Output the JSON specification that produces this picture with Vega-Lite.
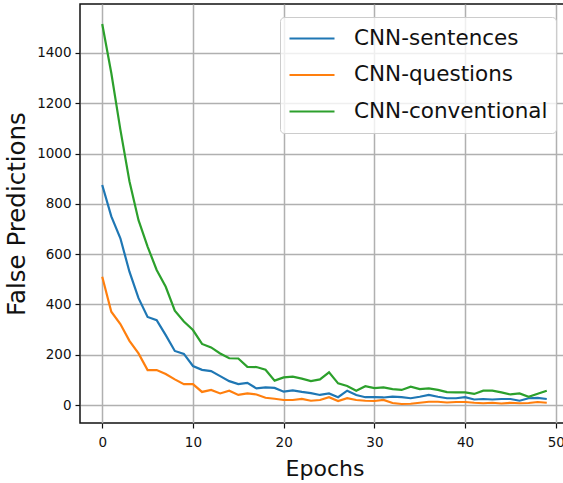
{
  "$schema": "https://vega.github.io/schema/vega-lite/v6.json",
  "width": 489,
  "height": 419,
  "autosize": {"type": "none"},
  "padding": {"left": 80, "top": 4, "right": 0, "bottom": 60},
  "background": "white",
  "config": {
    "view": {"stroke": "#111111", "strokeWidth": 1.5},
    "font": "DejaVu Sans",
    "axis": {
      "labelFont": "DejaVu Sans",
      "titleFont": "DejaVu Sans",
      "labelColor": "#111111",
      "titleColor": "#111111",
      "titleFontWeight": "normal",
      "labelFontSize": 13.5,
      "gridColor": "#b0b0b0",
      "gridWidth": 1.5,
      "gridOpacity": 1,
      "tickColor": "#111111",
      "tickWidth": 1.2,
      "tickSize": 5,
      "domain": false
    },
    "legend": {
      "labelFont": "DejaVu Sans",
      "labelFontSize": 21.5,
      "labelColor": "#111111",
      "labelLimit": 400
    }
  },
  "data": {
    "values": [
      {"epoch": 0, "series": "CNN-sentences", "value": 875},
      {"epoch": 1, "series": "CNN-sentences", "value": 750},
      {"epoch": 2, "series": "CNN-sentences", "value": 663},
      {"epoch": 3, "series": "CNN-sentences", "value": 530},
      {"epoch": 4, "series": "CNN-sentences", "value": 425},
      {"epoch": 5, "series": "CNN-sentences", "value": 350},
      {"epoch": 6, "series": "CNN-sentences", "value": 337},
      {"epoch": 7, "series": "CNN-sentences", "value": 278},
      {"epoch": 8, "series": "CNN-sentences", "value": 215},
      {"epoch": 9, "series": "CNN-sentences", "value": 203},
      {"epoch": 10, "series": "CNN-sentences", "value": 155},
      {"epoch": 11, "series": "CNN-sentences", "value": 140},
      {"epoch": 12, "series": "CNN-sentences", "value": 135},
      {"epoch": 13, "series": "CNN-sentences", "value": 115},
      {"epoch": 14, "series": "CNN-sentences", "value": 95},
      {"epoch": 15, "series": "CNN-sentences", "value": 83},
      {"epoch": 16, "series": "CNN-sentences", "value": 88},
      {"epoch": 17, "series": "CNN-sentences", "value": 66},
      {"epoch": 18, "series": "CNN-sentences", "value": 70},
      {"epoch": 19, "series": "CNN-sentences", "value": 68},
      {"epoch": 20, "series": "CNN-sentences", "value": 53},
      {"epoch": 21, "series": "CNN-sentences", "value": 58},
      {"epoch": 22, "series": "CNN-sentences", "value": 52},
      {"epoch": 23, "series": "CNN-sentences", "value": 47},
      {"epoch": 24, "series": "CNN-sentences", "value": 40},
      {"epoch": 25, "series": "CNN-sentences", "value": 46},
      {"epoch": 26, "series": "CNN-sentences", "value": 31},
      {"epoch": 27, "series": "CNN-sentences", "value": 57},
      {"epoch": 28, "series": "CNN-sentences", "value": 40},
      {"epoch": 29, "series": "CNN-sentences", "value": 31},
      {"epoch": 30, "series": "CNN-sentences", "value": 31},
      {"epoch": 31, "series": "CNN-sentences", "value": 30},
      {"epoch": 32, "series": "CNN-sentences", "value": 33},
      {"epoch": 33, "series": "CNN-sentences", "value": 31},
      {"epoch": 34, "series": "CNN-sentences", "value": 27},
      {"epoch": 35, "series": "CNN-sentences", "value": 33},
      {"epoch": 36, "series": "CNN-sentences", "value": 40},
      {"epoch": 37, "series": "CNN-sentences", "value": 33},
      {"epoch": 38, "series": "CNN-sentences", "value": 27},
      {"epoch": 39, "series": "CNN-sentences", "value": 27},
      {"epoch": 40, "series": "CNN-sentences", "value": 31},
      {"epoch": 41, "series": "CNN-sentences", "value": 22},
      {"epoch": 42, "series": "CNN-sentences", "value": 24},
      {"epoch": 43, "series": "CNN-sentences", "value": 22},
      {"epoch": 44, "series": "CNN-sentences", "value": 24},
      {"epoch": 45, "series": "CNN-sentences", "value": 24},
      {"epoch": 46, "series": "CNN-sentences", "value": 17},
      {"epoch": 47, "series": "CNN-sentences", "value": 27},
      {"epoch": 48, "series": "CNN-sentences", "value": 28},
      {"epoch": 49, "series": "CNN-sentences", "value": 24},
      {"epoch": 0, "series": "CNN-questions", "value": 510},
      {"epoch": 1, "series": "CNN-questions", "value": 371},
      {"epoch": 2, "series": "CNN-questions", "value": 322},
      {"epoch": 3, "series": "CNN-questions", "value": 255},
      {"epoch": 4, "series": "CNN-questions", "value": 205},
      {"epoch": 5, "series": "CNN-questions", "value": 139},
      {"epoch": 6, "series": "CNN-questions", "value": 139},
      {"epoch": 7, "series": "CNN-questions", "value": 123},
      {"epoch": 8, "series": "CNN-questions", "value": 102},
      {"epoch": 9, "series": "CNN-questions", "value": 83},
      {"epoch": 10, "series": "CNN-questions", "value": 83},
      {"epoch": 11, "series": "CNN-questions", "value": 52},
      {"epoch": 12, "series": "CNN-questions", "value": 60},
      {"epoch": 13, "series": "CNN-questions", "value": 46},
      {"epoch": 14, "series": "CNN-questions", "value": 57},
      {"epoch": 15, "series": "CNN-questions", "value": 40},
      {"epoch": 16, "series": "CNN-questions", "value": 46},
      {"epoch": 17, "series": "CNN-questions", "value": 42},
      {"epoch": 18, "series": "CNN-questions", "value": 29},
      {"epoch": 19, "series": "CNN-questions", "value": 25},
      {"epoch": 20, "series": "CNN-questions", "value": 20},
      {"epoch": 21, "series": "CNN-questions", "value": 20},
      {"epoch": 22, "series": "CNN-questions", "value": 24},
      {"epoch": 23, "series": "CNN-questions", "value": 17},
      {"epoch": 24, "series": "CNN-questions", "value": 20},
      {"epoch": 25, "series": "CNN-questions", "value": 31},
      {"epoch": 26, "series": "CNN-questions", "value": 16},
      {"epoch": 27, "series": "CNN-questions", "value": 27},
      {"epoch": 28, "series": "CNN-questions", "value": 20},
      {"epoch": 29, "series": "CNN-questions", "value": 17},
      {"epoch": 30, "series": "CNN-questions", "value": 16},
      {"epoch": 31, "series": "CNN-questions", "value": 20},
      {"epoch": 32, "series": "CNN-questions", "value": 8},
      {"epoch": 33, "series": "CNN-questions", "value": 4},
      {"epoch": 34, "series": "CNN-questions", "value": 5},
      {"epoch": 35, "series": "CNN-questions", "value": 9},
      {"epoch": 36, "series": "CNN-questions", "value": 13},
      {"epoch": 37, "series": "CNN-questions", "value": 13},
      {"epoch": 38, "series": "CNN-questions", "value": 10},
      {"epoch": 39, "series": "CNN-questions", "value": 12},
      {"epoch": 40, "series": "CNN-questions", "value": 12},
      {"epoch": 41, "series": "CNN-questions", "value": 9},
      {"epoch": 42, "series": "CNN-questions", "value": 7},
      {"epoch": 43, "series": "CNN-questions", "value": 9},
      {"epoch": 44, "series": "CNN-questions", "value": 6},
      {"epoch": 45, "series": "CNN-questions", "value": 9},
      {"epoch": 46, "series": "CNN-questions", "value": 7},
      {"epoch": 47, "series": "CNN-questions", "value": 8},
      {"epoch": 48, "series": "CNN-questions", "value": 12},
      {"epoch": 49, "series": "CNN-questions", "value": 9},
      {"epoch": 0, "series": "CNN-conventional", "value": 1515},
      {"epoch": 1, "series": "CNN-conventional", "value": 1320},
      {"epoch": 2, "series": "CNN-conventional", "value": 1095},
      {"epoch": 3, "series": "CNN-conventional", "value": 890},
      {"epoch": 4, "series": "CNN-conventional", "value": 735},
      {"epoch": 5, "series": "CNN-conventional", "value": 630},
      {"epoch": 6, "series": "CNN-conventional", "value": 537},
      {"epoch": 7, "series": "CNN-conventional", "value": 470},
      {"epoch": 8, "series": "CNN-conventional", "value": 375},
      {"epoch": 9, "series": "CNN-conventional", "value": 332},
      {"epoch": 10, "series": "CNN-conventional", "value": 298},
      {"epoch": 11, "series": "CNN-conventional", "value": 243},
      {"epoch": 12, "series": "CNN-conventional", "value": 229},
      {"epoch": 13, "series": "CNN-conventional", "value": 205},
      {"epoch": 14, "series": "CNN-conventional", "value": 186},
      {"epoch": 15, "series": "CNN-conventional", "value": 185},
      {"epoch": 16, "series": "CNN-conventional", "value": 152},
      {"epoch": 17, "series": "CNN-conventional", "value": 151},
      {"epoch": 18, "series": "CNN-conventional", "value": 140},
      {"epoch": 19, "series": "CNN-conventional", "value": 97},
      {"epoch": 20, "series": "CNN-conventional", "value": 110},
      {"epoch": 21, "series": "CNN-conventional", "value": 113},
      {"epoch": 22, "series": "CNN-conventional", "value": 105},
      {"epoch": 23, "series": "CNN-conventional", "value": 95},
      {"epoch": 24, "series": "CNN-conventional", "value": 102},
      {"epoch": 25, "series": "CNN-conventional", "value": 130},
      {"epoch": 26, "series": "CNN-conventional", "value": 86},
      {"epoch": 27, "series": "CNN-conventional", "value": 76},
      {"epoch": 28, "series": "CNN-conventional", "value": 57},
      {"epoch": 29, "series": "CNN-conventional", "value": 75},
      {"epoch": 30, "series": "CNN-conventional", "value": 67},
      {"epoch": 31, "series": "CNN-conventional", "value": 70},
      {"epoch": 32, "series": "CNN-conventional", "value": 63},
      {"epoch": 33, "series": "CNN-conventional", "value": 60},
      {"epoch": 34, "series": "CNN-conventional", "value": 73},
      {"epoch": 35, "series": "CNN-conventional", "value": 63},
      {"epoch": 36, "series": "CNN-conventional", "value": 66},
      {"epoch": 37, "series": "CNN-conventional", "value": 60},
      {"epoch": 38, "series": "CNN-conventional", "value": 51},
      {"epoch": 39, "series": "CNN-conventional", "value": 50},
      {"epoch": 40, "series": "CNN-conventional", "value": 50},
      {"epoch": 41, "series": "CNN-conventional", "value": 44},
      {"epoch": 42, "series": "CNN-conventional", "value": 57},
      {"epoch": 43, "series": "CNN-conventional", "value": 57},
      {"epoch": 44, "series": "CNN-conventional", "value": 50},
      {"epoch": 45, "series": "CNN-conventional", "value": 42},
      {"epoch": 46, "series": "CNN-conventional", "value": 46},
      {"epoch": 47, "series": "CNN-conventional", "value": 33},
      {"epoch": 48, "series": "CNN-conventional", "value": 45},
      {"epoch": 49, "series": "CNN-conventional", "value": 57}
    ]
  },
  "mark": {"type": "line", "strokeWidth": 2.2, "interpolate": "linear"},
  "encoding": {
    "x": {
      "field": "epoch",
      "type": "quantitative",
      "scale": {"domain": [-2.45, 51.45], "nice": false, "zero": false},
      "axis": {
        "values": [0, 10, 20, 30, 40, 50],
        "title": "Epochs",
        "titleFontSize": 22,
        "titlePadding": 10,
        "labelPadding": 7,
        "format": "d"
      }
    },
    "y": {
      "field": "value",
      "type": "quantitative",
      "scale": {"domain": [-71.5, 1594.5], "nice": false, "zero": false},
      "axis": {
        "values": [0, 200, 400, 600, 800, 1000, 1200, 1400],
        "title": "False Predictions",
        "titleFontSize": 24.5,
        "titlePadding": 7,
        "labelPadding": 4,
        "format": "d"
      }
    },
    "color": {
      "field": "series",
      "type": "nominal",
      "scale": {
        "domain": ["CNN-sentences", "CNN-questions", "CNN-conventional"],
        "range": ["#1f77b4", "#ff7f0e", "#2ca02c"]
      },
      "legend": {
        "title": null,
        "orient": "top-right",
        "offset": 13,
        "padding": 8,
        "fillColor": "rgba(255,255,255,0.8)",
        "strokeColor": "#cccccc",
        "cornerRadius": 4,
        "symbolType": "stroke",
        "symbolSize": 2025,
        "symbolStrokeWidth": 2.2,
        "clipHeight": 27,
        "rowPadding": 9.5,
        "labelOffset": 18
      }
    }
  }
}
